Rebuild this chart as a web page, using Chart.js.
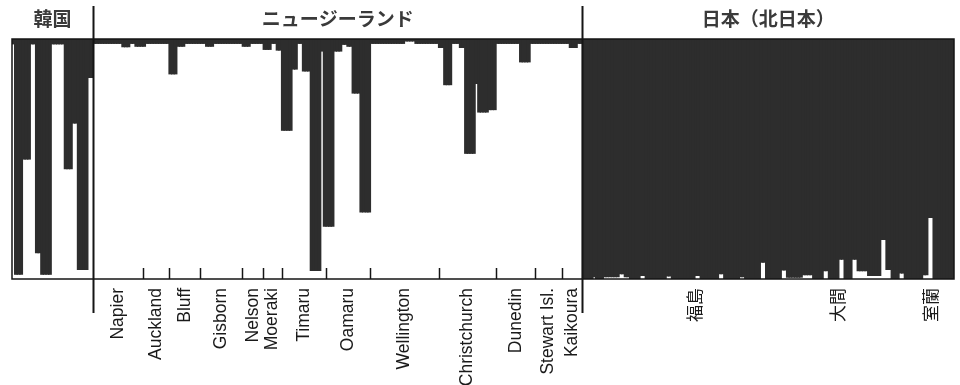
<!DOCTYPE html>
<html>
<head>
<meta charset="utf-8">
<script src="https://cdn.jsdelivr.net/npm/chart.js@4/dist/chart.umd.min.js"></script>
<style>
  html, body { margin: 0; padding: 0; background: #fff; }
  canvas { display: block; }
</style>
</head>
<body>
<canvas id="structure" width="960" height="385"></canvas>
<script>
// Ancestry proportion (dark cluster) of each individual, grouped by region and site.
const regions = ['韓国', 'ニュージーランド', '日本（北日本）'];

const koreaQ = [
  0.02, 0.98, 0.98, 0.98, 0.50, 0.50, 0.50, 0.02, 0.02, 0.89, 0.89,
  0.98, 0.98, 0.98, 0.98, 0.02, 0.02, 0.02, 0.02, 0.02, 0.54, 0.54,
  0.54, 0.35, 0.35, 0.96, 0.96, 0.96, 0.96, 0.16, 0.16
];

const nzSites = ['Napier', 'Auckland', 'Bluff', 'Gisborn', 'Nelson', 'Moeraki', 'Timaru',
  'Oamaru', 'Wellington', 'Christchurch', 'Dunedin', 'Stewart Isl.', 'Kaikoura'];

const nzQ = [
  // Napier
  [0.018, 0.018, 0.018, 0.018, 0.018, 0.018, 0.018, 0.018, 0.018, 0.018, 0.018,
   0.032, 0.032, 0.032, 0.018, 0.018, 0.03, 0.03, 0.03],
  // Auckland
  [0.03, 0.018, 0.018, 0.018, 0.018, 0.018, 0.018, 0.018, 0.018, 0.018],
  // Bluff
  [0.145, 0.145, 0.145, 0.03, 0.03, 0.03, 0.018, 0.018, 0.018, 0.018, 0.018, 0.018],
  // Gisborn
  [0.018, 0.018, 0.03, 0.03, 0.03, 0.018, 0.018, 0.018, 0.018, 0.018, 0.018,
   0.018, 0.018, 0.018, 0.018, 0.018],
  // Nelson
  [0.03, 0.03, 0.03, 0.018, 0.018, 0.018, 0.018, 0.018],
  // Moeraki
  [0.043, 0.043, 0.043, 0.018, 0.018, 0.046, 0.046],
  // Timaru
  [0.38, 0.38, 0.38, 0.38, 0.125, 0.125, 0.018, 0.018, 0.133, 0.133, 0.133,
   0.964, 0.964, 0.964, 0.964, 0.05, 0.78],
  // Oamaru
  [0.78, 0.78, 0.78, 0.05, 0.05, 0.05, 0.022, 0.022, 0.03, 0.03, 0.225, 0.225,
   0.225, 0.72, 0.72, 0.72, 0.72],
  // Wellington
  [0.018, 0.018, 0.018, 0.018, 0.018, 0.018, 0.018, 0.018, 0.018, 0.018, 0.018,
   0.018, 0.018, 0.008, 0.008, 0.008, 0.008, 0.018, 0.018, 0.018, 0.018, 0.018,
   0.018, 0.018, 0.018, 0.018],
  // Christchurch
  [0.035, 0.035, 0.19, 0.19, 0.19, 0.018, 0.018, 0.018, 0.035, 0.035, 0.476,
   0.476, 0.476, 0.476, 0.185, 0.304, 0.304, 0.304, 0.304, 0.294, 0.294, 0.294],
  // Dunedin
  [0.018, 0.018, 0.018, 0.018, 0.018, 0.018, 0.018, 0.018, 0.018, 0.095, 0.095,
   0.095, 0.095, 0.018, 0.018],
  // Stewart Isl.
  [0.018, 0.018, 0.018, 0.018, 0.018, 0.018, 0.018, 0.018, 0.018, 0.018],
  // Kaikoura
  [0.018, 0.018, 0.018, 0.035, 0.035, 0.035, 0.018, 0.018]
];

const japanQ = [
  1, 1, 1, 1, 0.99, 1, 1, 1, 0.99, 0.99, 0.99, 0.99, 0.99, 0.99, 0.978, 0.978,
  0.99, 0.99, 1, 1, 1, 1, 0.985, 0.985, 1, 1, 1, 1, 1, 1, 1, 1,
  0.987, 0.987, 1, 1, 1, 1, 1, 1, 1, 1, 1, 0.985, 0.985, 1, 1, 1,
  1, 1, 1, 1, 0.978, 0.978, 1, 1, 1, 1, 1, 1, 0.99, 0.99, 1, 1,
  1, 1, 1, 1, 0.93, 0.93, 1, 1, 1, 1, 1, 1, 0.962, 0.962, 0.992, 0.992,
  0.992, 0.992, 0.992, 0.992, 0.982, 0.982, 0.982, 0.982, 1, 1, 1, 1, 0.965, 0.965, 1, 1,
  1, 1, 0.917, 0.917, 1, 1, 1, 0.917, 0.917, 0.965, 0.965, 0.965, 0.965, 0.985, 0.985, 0.985,
  0.985, 0.985, 0.835, 0.835, 0.96, 0.96, 1, 1, 1, 0.975, 0.975, 1, 1, 1, 1, 1,
  1, 1, 0.982, 0.982, 0.743, 0.743, 1, 1, 1, 1, 1, 1, 1, 1
];

// Japanese sampling sites and the individual each label sits under
const japanSites = ['福島', '大間', '室蘭'];
const japanSiteAt = [42.5, 97, 132.5];

// ---- assemble the individuals in plotting order ----
const nzFlat = nzQ.flat();
const membership = koreaQ.concat(nzFlat, japanQ);
const individuals = membership.map((_, i) => String(i + 1));

const nzStart = koreaQ.length;
const japanStart = nzStart + nzFlat.length;
const total = membership.length;

const DARK = '#2d2d2d';
const INK = '#151515';

const decor = {
  id: 'structureDecor',
  beforeDraw(chart) {
    const ctx = chart.ctx;
    ctx.save();
    ctx.fillStyle = '#fff';
    ctx.fillRect(0, 0, chart.width, chart.height);
    ctx.restore();
  },
  afterDraw(chart) {
    const ctx = chart.ctx;
    const x = chart.scales.x;
    const area = chart.chartArea;
    const edge = b => x.getPixelForValue(b - 0.5);

    ctx.save();
    ctx.strokeStyle = INK;

    // plot frame
    ctx.lineWidth = 1.5;
    ctx.strokeRect(area.left, area.top, area.right - area.left, area.bottom - area.top);

    // region dividers
    ctx.lineWidth = 2;
    [nzStart, japanStart].forEach(b => {
      const px = Math.round(edge(b)) + 0.5;
      ctx.beginPath();
      ctx.moveTo(px, 6);
      ctx.lineTo(px, 313);
      ctx.stroke();
    });

    // site boundary ticks inside the New Zealand block
    ctx.lineWidth = 1.5;
    let b = nzStart;
    const nzCentres = [];
    nzQ.forEach((site, k) => {
      nzCentres.push(b + site.length / 2);
      b += site.length;
      if (k < nzQ.length - 1) {
        const px = Math.round(edge(b)) + 0.5;
        ctx.beginPath();
        ctx.moveTo(px, area.bottom - 11);
        ctx.lineTo(px, area.bottom);
        ctx.stroke();
      }
    });

    // region titles
    ctx.fillStyle = '#3a3a3a';
    ctx.font = 'bold 19px "Noto Sans CJK JP"';
    ctx.textAlign = 'center';
    ctx.textBaseline = 'middle';
    const bounds = [0, nzStart, japanStart, total];
    regions.forEach((name, r) => {
      const cx = (edge(bounds[r]) + edge(bounds[r + 1])) / 2;
      ctx.fillText(name, cx, 19);
    });

    // rotated site labels
    const rotated = (text, cx, font) => {
      ctx.save();
      ctx.translate(cx, 288);
      ctx.rotate(-Math.PI / 2);
      ctx.font = font;
      ctx.textAlign = 'right';
      ctx.textBaseline = 'middle';
      ctx.fillStyle = '#1a1a1a';
      ctx.fillText(text, 0, 0);
      ctx.restore();
    };
    nzSites.forEach((name, k) => {
      rotated(name, edge(nzCentres[k]), '17.5px "Liberation Sans", Arial, sans-serif');
    });
    japanSites.forEach((name, k) => {
      rotated(name, x.getPixelForValue(japanStart + japanSiteAt[k]), '17px "Noto Sans CJK JP"');
    });

    ctx.restore();
  }
};

new Chart(document.getElementById('structure'), {
  type: 'bar',
  data: {
    labels: individuals,
    datasets: [{
      label: 'cluster 1',
      data: membership,
      backgroundColor: DARK,
      borderWidth: 0,
      barPercentage: 1,
      categoryPercentage: 1,
      inflateAmount: 0.6
    }]
  },
  options: {
    responsive: false,
    animation: false,
    devicePixelRatio: 1,
    layout: { padding: { left: 12, right: 6, top: 39, bottom: 106 } },
    plugins: { legend: { display: false }, tooltip: { enabled: false } },
    scales: {
      x: { display: false },
      y: { display: false, min: 0, max: 1, reverse: true }
    }
  },
  plugins: [decor]
});
</script>
</body>
</html>
